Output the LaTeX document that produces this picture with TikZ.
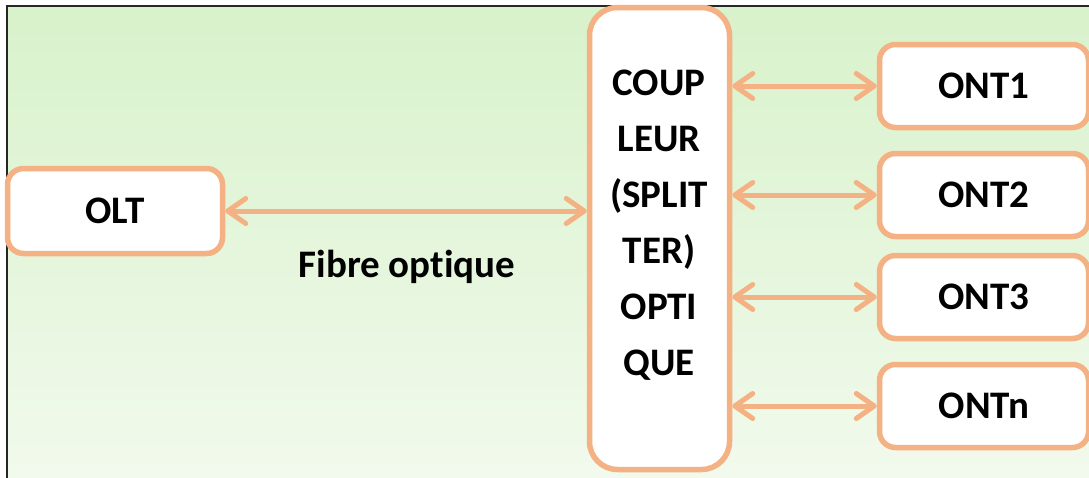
\documentclass[tikz,border=0pt]{standalone}
\usepackage{fontspec}
\setmainfont{Carlito}[Ligatures=NoCommon]
\usetikzlibrary{arrows.meta}
\definecolor{edge}{RGB}{244,177,131}
\definecolor{bgtop}{RGB}{216,242,203}
\definecolor{bgbot}{RGB}{242,250,237}
\begin{document}
\begin{tikzpicture}[x=1pt,y=-1pt,
  box/.style={draw=edge, line width=5.5pt, fill=white, rounded corners=16pt,
    inner sep=0pt, font=\bfseries\fontsize{39}{46}\selectfont},
  ontbox/.style={box, minimum width=209pt, minimum height=83pt},
  lbl/.style={inner sep=0pt, font=\bfseries\fontsize{39}{46}\selectfont},
  link/.style={draw=edge, line width=5pt, <->},
  >={Straight Barb[length=18pt,width=25pt,round]}]
\useasboundingbox (0,0) rectangle (1089,477);
\clip (0,0) rectangle (1089,477);
% page background and frame
\shade[top color=bgtop, bottom color=bgbot] (7,6) rectangle (1100,490);
\draw[line width=2pt, black!85] (7,490) -- (7,6) -- (1100,6);
% equipment
\node[box, minimum width=215pt, minimum height=85pt] (olt) at (115,211) {OLT};
\node[box, rounded corners=28pt, minimum width=140pt, minimum height=462pt] (coupler) at (659.5,238.5) {};
\node[lbl, align=center, font=\bfseries\fontsize{39}{56}\selectfont] (couplertext) at (659,225)
  {COUP\\LEUR\\(SPLIT\\TER)\\OPTI\\QUE};
\node[ontbox] (ont1) at (984,86) {ONT1};
\node[ontbox] (ont2) at (984,195) {ONT2};
\node[ontbox] (ont3) at (984,297) {ONT3};
\node[ontbox] (ontn) at (984,406) {ONTn};
% links
\draw[link] (olt.east) -- (olt.east -| coupler.west);
\node[lbl] (fibre) at (407,267) {Fibre optique};
\foreach \o in {ont1,ont2,ont3,ontn}
  \draw[link] (\o.west -| coupler.east) -- (\o.west);
\end{tikzpicture}
\end{document}
